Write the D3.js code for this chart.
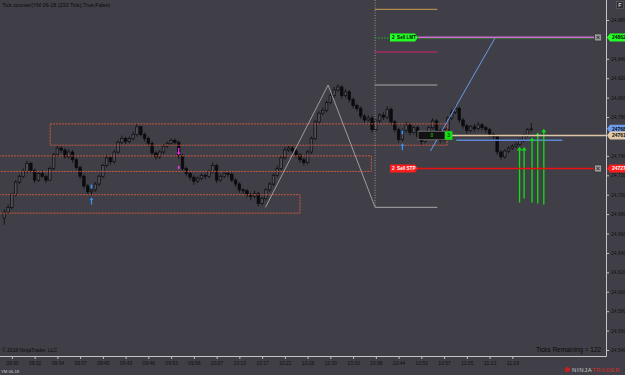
<!DOCTYPE html>
<html>
<head>
<meta charset="utf-8">
<script src="https://cdn.jsdelivr.net/npm/d3@7"></script>
<style>
    html, body { margin: 0; padding: 0; background: #403f47; overflow: hidden; }
    text { font-family: "Liberation Sans", Arial, sans-serif; }
</style>
</head>
<body>
<div class="chartContainer"></div>
<script>
// YM 06-18, 233 tick bars
const firstOpen = 24676;
const closes = [
    24682, 24687, 24700, 24713, 24719, 24724, 24732, 24725, 24715, 24722,
    24719, 24715, 24727, 24741, 24748, 24746, 24739, 24744, 24736, 24728,
    24719, 24709, 24703, 24705, 24711, 24719, 24730, 24738, 24734, 24744,
    24754, 24758, 24755, 24758, 24762, 24770, 24762, 24758, 24753, 24743,
    24739, 24744, 24750, 24753, 24756, 24754, 24740, 24727, 24722, 24718,
    24714, 24717, 24720, 24719, 24724, 24730, 24715, 24719, 24722, 24721,
    24715, 24711, 24705, 24704, 24700, 24698, 24701, 24691, 24696, 24705,
    24711, 24720, 24727, 24738, 24746, 24748, 24745, 24741, 24736, 24733,
    24744, 24758, 24775, 24784, 24787, 24795, 24802, 24808, 24811, 24802,
    24806, 24798, 24792, 24789, 24781, 24777, 24779, 24767, 24776, 24782,
    24780, 24788, 24775, 24767, 24757, 24766, 24772, 24764, 24769, 24760,
    24755, 24760, 24769, 24776, 24766, 24756, 24767, 24779, 24785, 24789,
    24777, 24771, 24766, 24770, 24768, 24772, 24769, 24767, 24762, 24760,
    24744, 24739, 24745, 24748, 24750, 24752, 24756, 24761, 24767, 24768
];
const highs = [
    24685, 24690, 24702, 24715, 24721, 24727, 24735, 24734, 24727, 24724,
    24725, 24721, 24729, 24743, 24751, 24750, 24748, 24747, 24746, 24738,
    24730, 24721, 24711, 24708, 24713, 24721, 24732, 24741, 24740, 24746,
    24756, 24761, 24760, 24760, 24765, 24773, 24771, 24764, 24760, 24755,
    24745, 24746, 24752, 24755, 24758, 24758, 24756, 24742, 24729, 24724,
    24720, 24719, 24722, 24722, 24726, 24733, 24732, 24721, 24725, 24724,
    24723, 24717, 24713, 24707, 24706, 24702, 24704, 24703, 24698, 24707,
    24713, 24722, 24730, 24740, 24749, 24751, 24750, 24747, 24743, 24738,
    24746, 24760, 24777, 24786, 24790, 24797, 24805, 24811, 24814, 24813,
    24809, 24808, 24800, 24794, 24791, 24783, 24782, 24781, 24778, 24784,
    24785, 24791, 24790, 24777, 24769, 24768, 24775, 24774, 24771, 24771,
    24762, 24762, 24771, 24779, 24778, 24768, 24769, 24781, 24788, 24792,
    24791, 24779, 24773, 24772, 24773, 24775, 24774, 24771, 24769, 24764,
    24762, 24746, 24747, 24750, 24752, 24754, 24758, 24763, 24769, 24774
];
const lows = [
    24669, 24680, 24685, 24698, 24711, 24717, 24722, 24723, 24712, 24713,
    24717, 24712, 24714, 24725, 24739, 24743, 24737, 24737, 24733, 24726,
    24716, 24706, 24700, 24700, 24703, 24709, 24717, 24728, 24731, 24732,
    24742, 24752, 24752, 24753, 24756, 24760, 24760, 24755, 24750, 24740,
    24736, 24737, 24742, 24748, 24751, 24751, 24737, 24724, 24719, 24715,
    24710, 24712, 24715, 24716, 24717, 24722, 24712, 24713, 24717, 24718,
    24713, 24708, 24702, 24701, 24697, 24694, 24696, 24688, 24689, 24694,
    24703, 24709, 24718, 24725, 24736, 24744, 24742, 24738, 24733, 24730,
    24731, 24742, 24756, 24773, 24782, 24785, 24793, 24800, 24806, 24799,
    24800, 24795, 24789, 24786, 24778, 24774, 24775, 24764, 24765, 24774,
    24777, 24778, 24772, 24764, 24754, 24755, 24764, 24761, 24762, 24757,
    24751, 24753, 24758, 24767, 24763, 24753, 24754, 24765, 24777, 24783,
    24774, 24768, 24763, 24764, 24765, 24766, 24766, 24764, 24759, 24757,
    24741, 24736, 24737, 24743, 24746, 24748, 24750, 24754, 24759, 24765
];

const timeLabels = [
    "09:30", "09:32", "09:34", "09:37", "09:40", "09:43", "09:46", "09:53",
    "09:58", "10:07", "10:13", "10:17", "10:22", "10:28", "10:30", "10:33",
    "10:38", "10:44", "10:51", "10:57", "11:05", "11:13", "11:19"
];
// 24760 and 24860 sit under the price markers, so they are not shown
const priceTicks = [
    24540, 24560, 24580, 24600, 24620, 24640, 24660, 24680, 24700, 24720,
    24740, 24780, 24800, 24820, 24840, 24880
];

// Drawing objects (bar index / price)
const zones = [
    { from: 12.1, to: 116.8, top: 24773, bottom: 24751 },
    { from: -3, to: 96.8, top: 24740, bottom: 24724 },
    { from: -3, to: 78, top: 24700, bottom: 24681 }
];
const zigzag = [[68.9, 24687], [85.4, 24813], [97.8, 24687]];
const fibLevels = [24891, 24847, 24813, 24687];
const fibRange = [97.8, 114.2];
const trendLine = [[112.4, 24745], [129.5, 24862]];
const markerLine = { from: 119.2, to: 147.2, price: 24756 };

const orders = [
    { label: "2  Sell LMT", price: 24862 },
    { label: "2  Sell STP", price: 24727 }
];
const lastPrice = 24768;
const avgPrice = 24761;
const positionQty = "3";
const positionText = "8";

const buySignals = [{ bar: 23, price: 24697 }, { bar: 105, price: 24753 }];
const sellSignals = [{ bar: 46, price: 24741 }];
const fillArrows = [
    { bar: 135.9, top: 24748, bottom: 24692 },
    { bar: 137.1, top: 24748, bottom: 24696 },
    { bar: 139.2, top: 24758, bottom: 24692 },
    { bar: 140.7, top: 24763, bottom: 24691 },
    { bar: 142.3, top: 24767, bottom: 24690 }
];

function main(){
    const W = 625, H = 375;
    const plotRight = 606, plotBottom = 356;
    const fibColors = ["#c8a050", "#d0246c", "#a8a8a8", "#a8a8a8"];

    const candles = closes.map((c, i) => ({
        i: i,
        open: i === 0 ? firstOpen : closes[i - 1],
        close: c,
        high: highs[i],
        low: lows[i]
    }));

    const svg = d3.select(".chartContainer").append("svg")
        .attr("width", W)
        .attr("height", H);

    svg.append("rect")
        .attr("width", W)
        .attr("height", H)
        .attr("fill", "#403f47");

    const x = d3.scaleLinear().domain([0, closes.length - 1]).range([4.3, 531.3]);
    const y = d3.scaleLinear().domain([24540, 24880]).range([350, 20]);

    svg.append("defs").append("clipPath").attr("id", "plotClip")
        .append("rect").attr("width", plotRight).attr("height", plotBottom);

    const plot = svg.append("g").attr("clip-path", "url(#plotClip)");

    // Candles
    const bars = plot.append("g").selectAll("g").data(candles).join("g");

    bars.append("line")
        .attr("x1", d => x(d.i)).attr("x2", d => x(d.i))
        .attr("y1", d => y(d.high)).attr("y2", d => y(d.low))
        .attr("stroke", "#0c0c0e")
        .attr("stroke-width", 0.8);

    bars.append("rect")
        .attr("x", d => x(d.i) - 1.3)
        .attr("width", 2.6)
        .attr("y", d => y(Math.max(d.open, d.close)))
        .attr("height", d => Math.max(0.8, Math.abs(y(d.open) - y(d.close))))
        .attr("fill", d => d.close >= d.open ? "#504f58" : "#0c0c0e")
        .attr("stroke", "#0c0c0e")
        .attr("stroke-width", 0.7);

    // Zones
    plot.append("g").selectAll("rect").data(zones).join("rect")
        .attr("x", d => x(d.from))
        .attr("y", d => y(d.top))
        .attr("width", d => x(d.to) - x(d.from))
        .attr("height", d => y(d.bottom) - y(d.top))
        .attr("fill", "none")
        .attr("stroke", "#c8583f")
        .attr("stroke-width", 1)
        .attr("stroke-dasharray", "2,1");

    // Zigzag + fib extension
    plot.append("path")
        .attr("d", d3.line().x(d => x(d[0])).y(d => y(d[1]))(zigzag))
        .attr("fill", "none")
        .attr("stroke", "#b4b4b4")
        .attr("stroke-width", 0.8);

    plot.append("line")
        .attr("x1", x(fibRange[0])).attr("x2", x(fibRange[0]))
        .attr("y1", 0).attr("y2", y(zigzag[2][1]))
        .attr("stroke", "#a8a8a8")
        .attr("stroke-width", 0.8)
        .attr("stroke-dasharray", "1,1.5");

    plot.append("g").selectAll("line").data(fibLevels).join("line")
        .attr("x1", x(fibRange[0])).attr("x2", x(fibRange[1]))
        .attr("y1", d => y(d)).attr("y2", d => y(d))
        .attr("stroke", (d, i) => fibColors[i])
        .attr("stroke-width", 1);

    // Trend line
    plot.append("line")
        .attr("x1", x(trendLine[0][0])).attr("y1", y(trendLine[0][1]))
        .attr("x2", x(trendLine[1][0])).attr("y2", y(trendLine[1][1]))
        .attr("stroke", "#6b9be6")
        .attr("stroke-width", 1);

    plot.append("line")
        .attr("x1", x(markerLine.from)).attr("x2", x(markerLine.to))
        .attr("y1", y(markerLine.price)).attr("y2", y(markerLine.price))
        .attr("stroke", "#5a86d6")
        .attr("stroke-width", 1.5);

    // Signals
    const arrowUp = (cx, tip, col) => {
        plot.append("path")
            .attr("d", `M${cx},${tip} L${cx + 1.8},${tip + 2.5} L${cx - 1.8},${tip + 2.5} Z`)
            .attr("fill", col);
        plot.append("line")
            .attr("x1", cx).attr("x2", cx).attr("y1", tip + 2).attr("y2", tip + 7)
            .attr("stroke", col).attr("stroke-width", 1.2);
    };

    buySignals.forEach(s => {
        const cx = x(s.bar);
        const tip = y(s.price);
        arrowUp(cx, tip, "#3399ff");
        plot.append("rect")
            .attr("x", cx - 0.8).attr("y", tip - 13).attr("width", 1.6).attr("height", 4)
            .attr("fill", "#3399ff");
    });

    sellSignals.forEach(s => {
        const cx = x(s.bar);
        const tip = y(s.price);
        plot.append("line")
            .attr("x1", cx).attr("x2", cx).attr("y1", tip - 7).attr("y2", tip - 2)
            .attr("stroke", "#ff33ff").attr("stroke-width", 1.2);
        plot.append("path")
            .attr("d", `M${cx},${tip} L${cx + 1.8},${tip - 2.5} L${cx - 1.8},${tip - 2.5} Z`)
            .attr("fill", "#ff33ff");
        plot.append("rect")
            .attr("x", cx - 0.8).attr("y", tip + 11).attr("width", 1.6).attr("height", 3)
            .attr("fill", "#ff33ff");
    });

    // Fill arrows
    fillArrows.forEach(a => {
        const cx = x(a.bar);
        plot.append("line")
            .attr("x1", cx).attr("x2", cx)
            .attr("y1", y(a.top) + 2).attr("y2", y(a.bottom))
            .attr("stroke", "#10e010").attr("stroke-width", 1.3);
        plot.append("path")
            .attr("d", `M${cx},${y(a.top) - 1} L${cx + 2.5},${y(a.top) + 2.5} L${cx - 2.5},${y(a.top) + 2.5} Z`)
            .attr("fill", "#10e010");
    });

    // Orders
    const lmtY = y(orders[0].price);
    const stpY = y(orders[1].price);

    plot.append("line")
        .attr("x1", x(fibRange[0])).attr("x2", 390)
        .attr("y1", lmtY + 0.5).attr("y2", lmtY + 0.5)
        .attr("stroke", "#22c022").attr("stroke-dasharray", "1.5,1.5");
    plot.append("line")
        .attr("x1", 418).attr("x2", 594)
        .attr("y1", lmtY + 1).attr("y2", lmtY + 1)
        .attr("stroke", "#30a030").attr("stroke-width", 0.5);
    plot.append("line")
        .attr("x1", 418).attr("x2", 594)
        .attr("y1", lmtY - 0.2).attr("y2", lmtY - 0.2)
        .attr("stroke", "#cc6ed0").attr("stroke-width", 1.4);

    plot.append("line")
        .attr("x1", 418).attr("x2", 594)
        .attr("y1", stpY).attr("y2", stpY)
        .attr("stroke", "#e81010").attr("stroke-width", 1.4);

    const orderColors = ["#22ff22", "#ff1c1c"];
    const orderText = ["#0a0a0a", "#ffffff"];
    orders.forEach((o, k) => {
        const oy = y(o.price);
        const x0 = 390, x1 = 415;
        plot.append("path")
            .attr("d", `M${x0},${oy - 4} L${x1},${oy - 4} L${x1 + 3},${oy} L${x1},${oy + 4} L${x0},${oy + 4} Z`)
            .attr("fill", orderColors[k]);
        plot.append("text")
            .attr("x", x0 + 2).attr("y", oy + 1.8)
            .attr("font-size", "4.6px").attr("font-weight", "700")
            .attr("fill", orderText[k])
            .style("white-space", "pre")
            .text(o.label);
        // close box
        plot.append("rect")
            .attr("x", 594.5).attr("y", oy - 3.5).attr("width", 7).attr("height", 7)
            .attr("fill", "#9a9a9a").attr("stroke", "#2a2a2a").attr("stroke-width", 0.6);
        plot.append("path")
            .attr("d", `M596.5,${oy - 1.5} L599.5,${oy + 1.5} M599.5,${oy - 1.5} L596.5,${oy + 1.5}`)
            .attr("stroke", "#202020").attr("stroke-width", 0.9);
    });

    // Position
    const avgY = y(avgPrice);
    plot.append("line")
        .attr("x1", 452).attr("x2", plotRight)
        .attr("y1", avgY).attr("y2", avgY)
        .attr("stroke", "#dcc6a6").attr("stroke-width", 1.4);
    plot.append("rect")
        .attr("x", 418).attr("y", avgY - 4.3).attr("width", 27).attr("height", 8.6)
        .attr("fill", "#121212").attr("stroke", "#8a8a8a").attr("stroke-width", 0.7);
    plot.append("text")
        .attr("x", 432).attr("y", avgY + 1.8)
        .attr("text-anchor", "middle")
        .attr("font-size", "5px").attr("fill", "#10c010")
        .text(positionText);
    plot.append("rect")
        .attr("x", 445).attr("y", avgY - 4.3).attr("width", 7.5).attr("height", 8.6)
        .attr("fill", "#10e010");
    plot.append("text")
        .attr("x", 448.7).attr("y", avgY + 1.8)
        .attr("text-anchor", "middle")
        .attr("font-size", "5px").attr("fill", "#0a0a0a")
        .text(positionQty);

    // Axes
    const yAxis = d3.axisRight(y).tickValues(priceTicks).tickSize(3).tickPadding(2);
    const yAxisG = svg.append("g")
        .attr("transform", `translate(${plotRight},0)`)
        .call(yAxis);
    yAxisG.select(".domain").remove();
    yAxisG.selectAll(".tick line").attr("stroke", "#c0c0c0");
    yAxisG.selectAll(".tick text")
        .attr("font-size", "5px")
        .attr("font-family", "Liberation Sans, Arial, sans-serif")
        .attr("fill", "#101010");

    const tickBars = timeLabels.map((t, k) => 2 + 6 * k);
    const xAxis = d3.axisBottom(x)
        .tickValues(tickBars)
        .tickFormat((d, k) => timeLabels[k])
        .tickSize(3)
        .tickPadding(2);
    const xAxisG = svg.append("g")
        .attr("transform", `translate(0,${plotBottom})`)
        .call(xAxis);
    xAxisG.select(".domain").remove();
    xAxisG.selectAll(".tick line").attr("stroke", "#c0c0c0");
    xAxisG.selectAll(".tick text")
        .attr("font-size", "5px")
        .attr("font-family", "Liberation Sans, Arial, sans-serif")
        .attr("fill", "#101010");

    svg.append("line")
        .attr("x1", plotRight + 0.5).attr("x2", plotRight + 0.5)
        .attr("y1", 0).attr("y2", plotBottom + 0.5)
        .attr("stroke", "#c4c4c4").attr("stroke-width", 1);
    svg.append("line")
        .attr("x1", 0).attr("x2", plotRight + 0.5)
        .attr("y1", plotBottom + 0.5).attr("y2", plotBottom + 0.5)
        .attr("stroke", "#c4c4c4").attr("stroke-width", 1);

    // Price markers on the axis
    const markers = [
        { price: orders[0].price, fill: "#22ff22", text: "#0a0a0a" },
        { price: lastPrice, fill: "#6b9cf0", text: "#0a0a0a" },
        { price: avgPrice, fill: "#e0c9a8", text: "#0a0a0a" },
        { price: orders[1].price, fill: "#ff1c1c", text: "#ffffff" }
    ];
    markers.forEach(m => {
        const my = y(m.price);
        svg.append("path")
            .attr("d", `M${plotRight + 1},${my} L${plotRight + 4},${my - 4} L${W},${my - 4} L${W},${my + 4} L${plotRight + 4},${my + 4} Z`)
            .attr("fill", m.fill);
        svg.append("text")
            .attr("x", plotRight + 6).attr("y", my + 1.8)
            .attr("font-size", "5px").attr("font-weight", "700")
            .attr("fill", m.text)
            .text(m.price);
    });

    // F button
    svg.append("rect")
        .attr("x", 616.5).attr("y", 1.5).attr("width", 7).attr("height", 7)
        .attr("fill", "#2c2c30").attr("stroke", "#707070").attr("stroke-width", 0.5);
    svg.append("text")
        .attr("x", 620).attr("y", 7)
        .attr("text-anchor", "middle")
        .attr("font-size", "5.5px").attr("font-weight", "700")
        .attr("fill", "#d0d0d0")
        .text("F");

    // Texts
    svg.append("text")
        .attr("x", 2).attr("y", 7)
        .attr("font-size", "5.4px")
        .attr("fill", "#0a0a0a")
        .text("Tick counter(YM 06-18 (233 Tick),True,False)");

    svg.append("text")
        .attr("x", 2).attr("y", 351.5)
        .attr("font-size", "5px")
        .attr("fill", "#0a0a0a")
        .text("© 2018 NinjaTrader, LLC");

    svg.append("text")
        .attr("x", 601).attr("y", 351.5)
        .attr("text-anchor", "end")
        .attr("font-size", "6.4px")
        .attr("fill", "#0a0a0a")
        .text("Ticks Remaining = 122");

    svg.append("text")
        .attr("x", 1).attr("y", 373)
        .attr("font-size", "4.2px")
        .attr("fill", "#c8c8c8")
        .text("YM 06-18");

    // NinjaTrader logo
    svg.append("circle")
        .attr("cx", 567.5).attr("cy", 369.5).attr("r", 2.6)
        .attr("fill", "#c81e1e");
    const logo = svg.append("text")
        .attr("x", 572).attr("y", 372)
        .attr("font-size", "6px")
        .attr("letter-spacing", "0.6px");
    logo.append("tspan").attr("fill", "#c8c8c8").text("NINJA");
    logo.append("tspan").attr("fill", "#d42a2a").text("TRADER");
}

main()
</script>
</body>
</html>
